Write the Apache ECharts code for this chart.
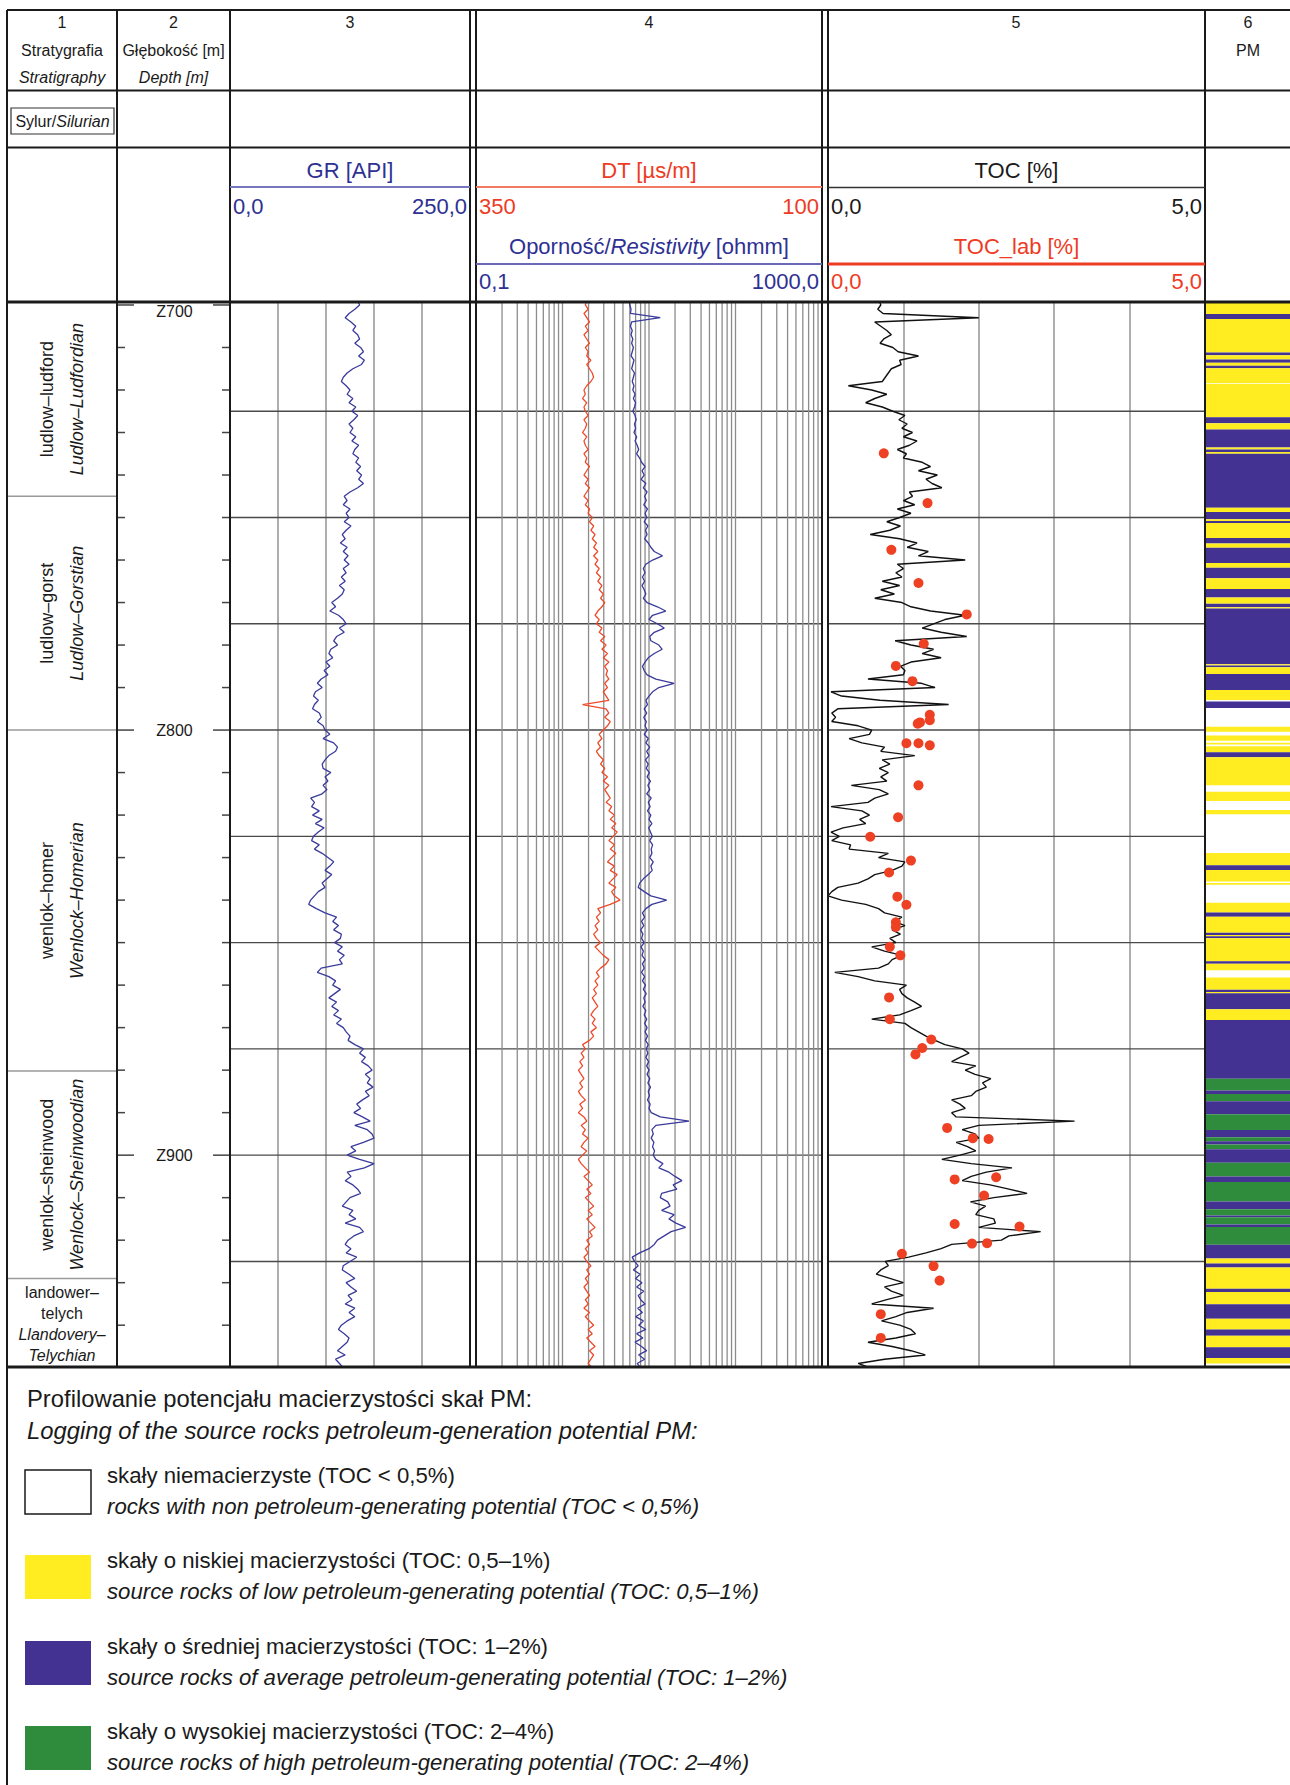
<!DOCTYPE html>
<html><head><meta charset="utf-8">
<script src="https://cdn.jsdelivr.net/npm/echarts@6/dist/echarts.min.js"></script>
<style>html,body{margin:0;padding:0;background:#fff}#c{width:1290px;height:1785px}</style>
</head><body><div id="c"></div>
<script>
// ---------------- DATA ----------------
const DEPTH_MIN = 699.3, DEPTH_MAX = 949.6;
const SAMPLE_TOP = 699;           // first log sample depth [m], 1 m sampling
const gr = [
133,135,130,124,120,126,131,128,133,135,
130,136,139,134,140,137,128,122,118,116,
121,125,122,128,124,131,127,133,129,124,
128,125,131,127,134,130,128,134,131,136,
132,137,134,139,133,125,119,122,118,125,
121,124,119,126,121,117,120,115,122,118,
123,119,124,118,121,116,120,114,119,117,
112,106,110,104,113,118,121,114,119,111,
108,112,105,103,107,100,104,98,102,95,
91,96,89,87,92,88,86,93,95,91,
97,99,104,97,108,112,110,103,99,96,
97,105,99,102,97,101,96,84,88,85,
93,86,96,89,98,92,87,85,93,88,
96,102,108,104,99,106,101,96,99,92,
88,84,82,90,99,111,107,113,108,116,
115,109,117,112,119,114,117,95,91,103,
110,107,115,109,103,111,106,113,108,116,
111,118,121,125,123,130,139,135,141,137,
144,148,141,146,143,149,141,145,138,132,
136,129,138,146,130,143,148,150,139,126,
131,122,135,150,140,122,126,120,128,133,
136,125,121,117,128,124,131,120,135,139,
129,123,120,126,121,132,125,118,117,124,
130,121,126,132,123,127,120,130,124,130,
122,116,113,119,124,122,117,112,120,110,
114,118];
const dt = [
270,271,269,272,270,268,271,269,272,270,
268,271,269,270,267,270,268,266,265,267,
270,272,271,273,270,272,271,269,272,270,
271,273,270,272,271,269,272,270,271,268,
270,272,269,271,268,270,272,269,271,268,
269,266,268,265,267,264,266,263,265,262,
265,262,264,261,263,260,262,259,261,258,
260,257,259,262,264,261,263,259,261,257,
260,256,259,255,258,254,257,255,256,254,
257,255,258,256,254,273,256,254,257,253,
255,258,261,259,262,260,263,261,258,260,
257,259,255,258,254,257,255,253,256,252,
254,250,253,249,252,248,251,254,250,253,
249,252,255,250,253,248,251,254,249,252,
250,246,253,262,260,263,261,264,262,265,
263,260,264,261,258,254,256,260,263,261,
264,262,265,263,266,264,262,265,267,264,
266,263,267,265,268,273,271,274,272,275,
273,276,274,272,275,273,276,274,271,275,
273,276,272,270,274,271,273,269,272,274,
270,273,276,274,271,268,272,269,266,270,
267,271,268,265,269,266,270,267,264,268,
266,270,268,271,269,272,270,267,270,268,
271,269,272,270,268,271,269,272,268,271,
268,265,269,266,270,267,264,268,265,267,
269,266];
const res = [
5.9,6.0,6.2,6.1,13.5,6.3,6.1,6.4,6.2,6.5,
6.3,6.6,6.4,6.2,6.7,6.5,6.3,6.8,6.6,6.4,
6.7,6.5,6.9,6.6,7.0,6.8,6.5,6.9,7.1,6.8,
7.0,6.7,7.2,6.9,7.3,7.6,7.2,7.8,8.2,9.0,
8.3,8.8,8.1,9.2,8.6,9.5,8.9,9.3,8.7,9.6,
9.0,9.4,8.8,9.7,9.1,9.5,8.9,9.8,10.5,11.5,
14.3,11.0,9.2,8.6,9.0,8.4,8.9,8.3,8.8,9.2,
8.6,9.5,12.5,15.6,11.0,10.0,12.5,15.0,11.5,10.2,
10.5,13.0,14.2,11.5,9.8,9.0,8.4,8.8,9.5,12.0,
19.5,13.0,11.0,10.0,9.2,9.6,8.8,9.4,8.7,9.3,
9.0,9.5,8.8,9.8,9.2,10.2,9.4,10.0,9.1,9.8,
9.3,10.1,9.5,10.4,9.7,10.2,9.4,10.6,9.8,10.3,
9.6,10.5,10.0,10.8,9.9,10.4,10.9,10.2,11.0,10.6,
10.8,10.2,11.2,10.5,10.9,9.8,8.6,7.8,7.5,8.8,
10.5,16.0,10.8,9.2,8.4,8.9,8.2,8.7,8.0,8.5,
8.2,8.8,8.1,8.6,8.3,9.0,8.4,8.8,8.2,8.9,
8.4,9.1,8.6,9.3,8.7,9.0,8.5,9.2,8.8,9.4,
8.9,9.5,9.0,9.6,9.1,9.8,9.3,9.7,9.2,9.9,
9.4,10.0,9.5,10.2,9.7,10.4,9.8,10.1,9.6,10.3,
10.0,10.6,13.5,29.0,12.0,10.8,11.2,10.6,11.4,11.0,
11.6,11.2,12.0,14.5,13.0,17.0,20.0,24.0,19.0,21.0,
14.0,13.5,16.5,17.5,14.0,19.5,17.0,20.5,26.5,18.0,
15.0,12.5,11.5,10.0,7.8,6.4,6.8,7.5,6.6,7.9,
7.0,8.3,7.2,8.7,7.5,8.0,9.0,7.4,8.4,7.0,
8.6,7.6,9.2,7.2,8.5,6.9,8.2,9.4,7.6,8.9,
7.3,8.0];
const toc = [
0.68,0.70,0.66,0.73,2.00,0.62,0.70,0.78,0.84,0.74,
0.69,0.86,0.93,1.20,0.95,0.97,0.84,0.80,0.76,0.72,
0.27,0.58,0.78,0.62,0.50,0.72,0.86,1.02,0.94,1.05,
0.98,1.12,1.00,1.18,1.08,0.92,1.04,1.00,1.25,1.36,
1.20,1.45,1.30,1.38,1.51,1.08,1.12,1.00,1.15,0.92,
1.10,0.95,0.78,0.96,0.82,0.56,0.95,1.18,1.05,1.33,
1.20,1.82,0.92,1.00,0.90,0.98,0.72,0.95,0.70,0.88,
0.62,0.98,1.10,1.36,1.82,1.55,1.40,1.25,1.50,1.84,
0.89,1.10,1.40,1.25,1.50,1.10,0.96,1.02,1.00,0.53,
1.24,1.42,0.04,0.18,0.69,1.60,0.13,0.05,0.10,0.05,
0.40,0.58,0.55,0.28,0.45,0.75,0.70,1.15,0.72,0.82,
0.68,0.80,0.70,0.78,0.31,0.68,0.80,0.62,0.53,0.04,
0.45,0.55,0.42,0.50,0.20,0.04,0.15,0.05,0.30,0.28,
0.80,0.67,1.02,0.98,0.85,0.62,0.53,0.40,0.13,0.05,
0.00,0.18,0.50,0.67,0.75,0.98,0.88,1.02,0.85,0.96,
0.82,0.90,0.58,0.75,0.98,0.85,0.80,0.67,0.09,0.40,
0.62,1.04,0.95,0.98,1.05,1.15,1.24,1.10,0.95,0.58,
1.02,1.10,1.20,1.30,1.42,1.55,1.78,1.87,1.75,1.64,
1.96,1.82,1.95,2.16,2.05,2.10,1.96,1.90,1.64,1.75,
1.82,1.64,1.70,3.27,2.00,1.78,1.95,2.00,1.70,1.85,
1.96,1.75,1.51,1.90,2.44,2.10,1.90,1.78,2.15,2.40,
2.64,2.20,1.89,2.09,2.00,1.96,2.20,2.22,2.00,2.82,
2.40,2.30,1.64,1.50,1.30,1.07,0.76,0.80,0.70,0.64,
0.82,1.00,0.75,0.84,1.00,0.78,0.58,1.40,1.05,0.90,
0.71,0.95,1.10,1.16,0.90,0.53,0.85,1.10,1.29,0.75,
0.40,0.55];
const tocLabDepth = [734.9,746.6,757.6,765.4,772.8,779.7,784.9,788.5,796.4,797.7,798.2,798.5,803.1,803.1,803.6,813.0,820.5,825.1,830.7,833.5,839.2,841.1,845.2,846.3,851.0,853.0,862.9,868.0,872.8,874.8,876.3,893.6,896.0,896.2,905.7,905.2,909.5,916.2,916.8,920.8,920.7,923.2,926.1,929.5,937.4,943.0];
const tocLabValue = [0.74,1.32,0.84,1.20,1.84,1.27,0.90,1.12,1.35,1.35,1.22,1.19,1.04,1.20,1.35,1.20,0.93,0.56,1.10,0.81,0.92,1.04,0.90,0.90,0.82,0.96,0.81,0.82,1.37,1.25,1.16,1.58,1.92,2.13,1.68,2.23,2.07,1.68,2.54,1.91,2.11,0.98,1.40,1.48,0.70,0.70];
// PM bands: [top, base, class]  class 1 = low, 2 = average, 3 = high (white = non-source)
const pmBands = [
[699.3,702.1,1],[702.1,703.3,2],[703.3,711.2,1],[711.2,711.8,2],[711.8,712.8,1],[712.8,713.6,2],[713.6,714.3,1],[714.3,714.9,2],[714.9,718.4,1],[718.6,726.4,1],[726.4,727.8,2],[727.8,729.3,1],[729.3,733.5,2],[733.5,734.0,1],[734.0,734.6,2],[734.6,735.0,1],[735.0,747.7,2],[747.7,748.7,1],[748.7,750.4,2],[750.4,750.8,1],[750.8,751.3,2],[751.3,754.8,1],[754.8,756.1,2],[756.1,757.1,1],[757.1,760.7,2],[760.7,761.8,1],[761.8,764.3,2],[764.3,766.8,1],[766.8,768.8,2],[768.8,770.3,1],[770.3,771.1,2],[771.1,771.4,1],[771.4,784.5,2],[784.5,784.8,1],[784.8,785.2,2],[785.2,786.8,1],[786.8,790.6,2],[790.6,792.9,1],[793.3,794.8,2],[799.2,800.4,1],[801.3,802.5,1],[803.0,803.4,1],[803.8,805.2,1],[805.2,806.4,2],[806.4,813.0,1],[814.5,816.7,1],[818.8,819.8,1],
[828.9,831.8,1],[831.8,832.9,2],[832.9,835.6,1],[836.0,836.4,1],[840.6,842.9,1],[842.9,843.9,2],[843.9,847.7,1],[847.7,848.2,2],[848.2,848.5,1],[848.5,849.0,2],[849.0,854.4,1],[854.4,855.0,2],[855.0,856.5,1],[858.2,861.1,1],[861.1,861.6,2],[861.6,861.9,1],[861.9,865.7,2],[865.7,868.2,1],[868.2,882.0,2],[882.0,884.8,3],[884.8,885.6,2],[885.6,887.3,3],[887.3,890.4,2],[890.4,894.1,3],[894.1,895.8,2],[895.8,896.7,3],[896.7,897.5,2],[897.5,898.6,3],[898.6,901.8,2],[901.8,905.0,3],[905.0,906.3,2],[906.3,910.9,3],[910.9,912.7,2],[912.7,914.2,3],[914.2,914.6,2],[914.6,916.3,3],[916.3,916.9,2],[916.9,921.1,3],[921.1,924.3,2],[924.3,925.5,1],[925.5,926.4,2],[926.4,931.4,1],[931.4,932.2,2],[932.2,935.1,1],[935.1,938.5,2],[938.5,941.0,1],[941.0,942.5,2],[942.5,945.2,1],[945.2,947.7,2],[947.7,949.0,1]];
const pmColors = ['#ffffff','#FFED21','#433291','#2F8C3C'];
const stratTop   = [699.3, 745, 800, 880.2, 929];
const stratBase  = [745, 800, 880.2, 929, 949.6];
const stratLocal = ['ludlow–ludford','ludlow–gorst','wenlok–homer','wenlok–sheinwood','landower–\ntelych'];
const stratLatin = ['Ludlow–Ludfordian','Ludlow–Gorstian','Wenlock–Homerian','Wenlock–Sheinwoodian','Llandovery–\nTelychian'];
const gridDepths = [725,750,775,800,825,850,875,900,925];
const depthTicks = [700,710,720,730,740,750,760,770,780,790,800,810,820,830,840,850,860,870,880,890,900,910,920,930,940];
const depthLabelDepths = [700,800,900];
const depthLabels = ['Z700','Z800','Z900'];
const resGridValues = [0.2,0.3,0.4,0.5,0.6,0.7,0.8,0.9,1,2,3,4,5,6,7,8,9,10,20,30,40,50,60,70,80,90,100,200,300,400,500,600,700,800,900];
const legendLocal = ['skały niemacierzyste (TOC < 0,5%)','skały o niskiej macierzystości (TOC: 0,5–1%)','skały o średniej macierzystości (TOC: 1–2%)','skały o wysokiej macierzystości (TOC: 2–4%)'];
const legendEnglish = ['rocks with non petroleum-generating potential (TOC < 0,5%)','source rocks of low petroleum-generating potential (TOC: 0,5–1%)','source rocks of average petroleum-generating potential (TOC: 1–2%)','source rocks of high petroleum-generating potential (TOC: 2–4%)'];

// ---------------- STYLE / LAYOUT ----------------
const FONT = '"Liberation Sans", Arial, sans-serif';
const BLUE = '#2E3192', RED = '#EE3B24', CURVE_BLUE = '#3A3A9C';
const TOP = 302, H = 1064;

function T(x, y, text, size, color, italic, align) {
  return {type:'text', x:x, y:y, z:100, silent:true, style:{text:text, fill:color||'#1a1a1a', fontSize:size, fontFamily:FONT, fontStyle: italic?'italic':'normal', align: align||'center', verticalAlign:'middle'}};
}
function RT(x, y, text, size, color, align) {
  return {type:'text', x:x, y:y, z:100, silent:true, style:{text:text, align: align||'center', verticalAlign:'middle', fontSize:size, fontFamily:FONT, fill:color,
    rich:{n:{fontSize:size, fontFamily:FONT, fill:color, color:color}, i:{fontSize:size, fontFamily:FONT, fontStyle:'italic', fill:color, color:color}}}};
}
function L(x1,y1,x2,y2,w,c){ return {type:'line', z:100, silent:true, shape:{x1:x1,y1:y1,x2:x2,y2:y2}, style:{stroke:c||'#1a1a1a', lineWidth:w||2}}; }
function RC(x,y,w,h,fill,stroke){ return {type:'rect', z:100, silent:true, shape:{x:x,y:y,width:w,height:h}, style:{fill:fill, stroke:stroke||null, lineWidth:stroke?1.5:0}}; }

const g = [];
// frame
[10, 90.5, 147.5].forEach(y => g.push(L(7, y, 1290, y, 2)));
g.push(L(7, 302, 1290, 302, 3));
g.push(L(7, 1367, 1290, 1367, 3));
g.push(L(7, 10, 7, 1785, 2));
[117, 230, 470, 476, 822, 828, 1205].forEach(x => g.push(L(x, 10, x, 1367, 2)));
// column numbers / titles
[[62,'1'],[173.5,'2'],[350,'3'],[649,'4'],[1016,'5'],[1248,'6']].forEach(a => g.push(T(a[0], 22, a[1], 16)));
g.push(T(62, 50, 'Stratygrafia', 16));
g.push(T(62, 77, 'Stratigraphy', 16, null, true));
g.push(T(173.5, 50, 'Głębokość [m]', 16));
g.push(T(173.5, 77, 'Depth [m]', 16, null, true));
g.push(T(1248, 50, 'PM', 16));
g.push({type:'rect', z:100, silent:true, shape:{x:11, y:108, width:103, height:26}, style:{fill:'none', stroke:'#333', lineWidth:1.2}});
g.push(RT(62.5, 121.5, '{n|Sylur/}{i|Silurian}', 16, '#1a1a1a'));
// track headers
g.push(T(350, 170, 'GR [API]', 22, BLUE));
g.push(L(230, 187, 470, 187, 2, '#7676BE'));
g.push(T(233, 206, '0,0', 22, BLUE, false, 'left'));
g.push(T(467, 206, '250,0', 22, BLUE, false, 'right'));
g.push(T(649, 170, 'DT [µs/m]', 22, RED));
g.push(L(476, 187, 822, 187, 2, '#F27A62'));
g.push(T(479, 206, '350', 22, RED, false, 'left'));
g.push(T(819, 206, '100', 22, RED, false, 'right'));
g.push(RT(649, 246.5, '{n|Oporność/}{i|Resistivity}{n| [ohmm]}', 22, BLUE));
g.push(L(476, 264, 822, 264, 2, '#6A6AB8'));
g.push(T(479, 281.5, '0,1', 22, BLUE, false, 'left'));
g.push(T(819, 281.5, '1000,0', 22, BLUE, false, 'right'));
g.push(T(1016.5, 170, 'TOC [%]', 22));
g.push(L(828, 187.5, 1205, 187.5, 1.6, '#333'));
g.push(T(831, 206, '0,0', 22, null, false, 'left'));
g.push(T(1202, 206, '5,0', 22, null, false, 'right'));
g.push(T(1016.5, 246.5, 'TOC_lab [%]', 22, RED));
g.push(L(828, 264, 1205, 264, 3, RED));
g.push(T(831, 281.5, '0,0', 22, RED, false, 'left'));
g.push(T(1202, 281.5, '5,0', 22, RED, false, 'right'));
// legend
g.push(T(27, 1398, 'Profilowanie potencjału macierzystości skał PM:', 23.8, null, false, 'left'));
g.push(T(27, 1430, 'Logging of the source rocks petroleum-generation potential PM:', 23.8, null, true, 'left'));
const legY = [1470, 1555, 1641, 1726];
legendLocal.forEach((s, i) => {
  g.push(RC(25, legY[i], 66, 44, pmColors[i], i === 0 ? '#1a1a1a' : null));
  g.push(T(107, legY[i] + 5, s, 22.2, null, false, 'left'));
  g.push(T(107, legY[i] + 36, legendEnglish[i], 22.2, null, true, 'left'));
});

// ---------------- CHART ----------------
const grids = [
  {left:7, top:TOP, width:110, height:H},
  {left:117, top:TOP, width:113, height:H},
  {left:230, top:TOP, width:240, height:H},
  {left:476, top:TOP, width:346, height:H},
  {left:828, top:TOP, width:377, height:H},
  {left:1206, top:TOP, width:84, height:H}
];
const yAxes = grids.map((_, i) => ({gridIndex:i, type:'value', min:DEPTH_MIN, max:DEPTH_MAX, inverse:true, show:false}));
const vSplit = {show:true, lineStyle:{color:'#9a9a9a', width:1.6}};
const hidden = {axisLine:{show:false}, axisTick:{show:false}, axisLabel:{show:false}};
const xAxes = [
  {gridIndex:0, type:'value', min:0, max:1, show:false},
  {gridIndex:1, type:'value', min:0, max:1, show:false},
  Object.assign({gridIndex:2, type:'value', min:0, max:250, interval:50, splitLine:vSplit}, hidden),
  {gridIndex:3, type:'value', min:100, max:350, inverse:true, show:false},
  {gridIndex:3, type:'log', logBase:10, min:0.1, max:1000, show:false},
  Object.assign({gridIndex:4, type:'value', min:0, max:5, interval:1, splitLine:vSplit}, hidden),
  {gridIndex:5, type:'value', min:0, max:1, show:false}
];

function curve(values){ return values.map((v, i) => [v, SAMPLE_TOP + i]); }
function hGrid(xi, yi, xref){
  return {type:'custom', xAxisIndex:xi, yAxisIndex:yi, z:1, silent:true, data: gridDepths.map(d => [xref, d]),
    renderItem: (p, api) => { const cs = p.coordSys; const y = api.coord([api.value(0), api.value(1)])[1];
      return {type:'line', shape:{x1:cs.x, y1:y, x2:cs.x+cs.width, y2:y}, style:{stroke:'#4a4a4a', lineWidth:1.4}}; }};
}

const series = [
  // stratigraphy
  {type:'custom', xAxisIndex:0, yAxisIndex:0, silent:true, z:5,
   data: stratTop.map((t, i) => [0.5, t, stratBase[i], i]),
   renderItem: (p, api) => {
     const cs = p.coordSys, i = api.value(3);
     const y0 = api.coord([0.5, api.value(1)])[1], y1 = api.coord([0.5, api.value(2)])[1];
     const cx = cs.x + cs.width/2, cy = (y0 + y1)/2;
     const ch = [];
     if (api.value(2) < DEPTH_MAX - 0.5) ch.push({type:'line', shape:{x1:cs.x, y1:y1, x2:cs.x+cs.width, y2:y1}, style:{stroke:'#9a9a9a', lineWidth:1.5}});
     if (y1 - y0 > 140) {
       ch.push({type:'text', x:cx-15, y:cy, rotation:Math.PI/2, style:{text:stratLocal[i], fontSize:18, fontFamily:FONT, fill:'#1a1a1a', align:'center', verticalAlign:'middle'}});
       ch.push({type:'text', x:cx+15, y:cy, rotation:Math.PI/2, style:{text:stratLatin[i], fontSize:18, fontFamily:FONT, fontStyle:'italic', fill:'#1a1a1a', align:'center', verticalAlign:'middle'}});
     } else {
       ch.push({type:'text', x:cx, y:cy-19, style:{text:stratLocal[i], fontSize:16, lineHeight:21, fontFamily:FONT, fill:'#1a1a1a', align:'center', verticalAlign:'middle'}});
       ch.push({type:'text', x:cx, y:cy+23, style:{text:stratLatin[i], fontSize:16, lineHeight:21, fontFamily:FONT, fontStyle:'italic', fill:'#1a1a1a', align:'center', verticalAlign:'middle'}});
     }
     return {type:'group', children:ch};
   }},
  // depth ticks
  {type:'custom', xAxisIndex:1, yAxisIndex:1, silent:true, z:5,
   data: depthTicks.map(d => [0.5, d]),
   renderItem: (p, api) => {
     const cs = p.coordSys, d = api.value(1);
     const y = api.coord([0.5, d])[1];
     const k = depthLabelDepths.indexOf(d);
     const len = k >= 0 ? 17 : 8;
     const ch = [
       {type:'line', shape:{x1:cs.x, y1:y, x2:cs.x+len, y2:y}, style:{stroke:'#444', lineWidth:1.5}},
       {type:'line', shape:{x1:cs.x+cs.width-len, y1:y, x2:cs.x+cs.width, y2:y}, style:{stroke:'#444', lineWidth:1.5}}
     ];
     if (k >= 0) ch.push({type:'text', x:cs.x+cs.width/2+1, y:Math.max(y, cs.y+9), style:{text:depthLabels[k], fontSize:16, fontFamily:FONT, fill:'#1a1a1a', align:'center', verticalAlign:'middle'}});
     return {type:'group', children:ch};
   }},
  // grids
  hGrid(2, 2, 0), hGrid(3, 3, 200), hGrid(5, 4, 0),
  {type:'custom', xAxisIndex:4, yAxisIndex:3, z:1, silent:true, data: resGridValues.map(v => [v, DEPTH_MIN]),
   renderItem: (p, api) => { const cs = p.coordSys; const x = api.coord([api.value(0), api.value(1)])[0];
     return {type:'line', shape:{x1:x, y1:cs.y, x2:x, y2:cs.y+cs.height}, style:{stroke:'#8c8c8c', lineWidth:1.3}}; }},
  // curves
  {name:'GR', type:'line', xAxisIndex:2, yAxisIndex:2, z:3, data:curve(gr), showSymbol:false, symbol:'none', lineStyle:{color:CURVE_BLUE, width:1.3}},
  {name:'DT', type:'line', xAxisIndex:3, yAxisIndex:3, z:3, data:curve(dt), showSymbol:false, symbol:'none', lineStyle:{color:'#EE4A2A', width:1.3}},
  {name:'Resistivity', type:'line', xAxisIndex:4, yAxisIndex:3, z:3, data:curve(res), showSymbol:false, symbol:'none', lineStyle:{color:CURVE_BLUE, width:1.3}},
  {name:'TOC', type:'line', xAxisIndex:5, yAxisIndex:4, z:3, data:curve(toc), showSymbol:false, symbol:'none', lineStyle:{color:'#111', width:1.4}},
  {name:'TOC_lab', type:'scatter', xAxisIndex:5, yAxisIndex:4, z:4, data:tocLabValue.map((v, i) => [v, tocLabDepth[i]]), symbolSize:10, itemStyle:{color:'#EE4023', opacity:1}},
  // PM
  {type:'custom', xAxisIndex:6, yAxisIndex:5, silent:true, z:2, data: pmBands,
   encode:{y:[0,1]},
   renderItem: (p, api) => { const cs = p.coordSys;
     const y0 = api.coord([0, api.value(0)])[1], y1 = api.coord([0, api.value(1)])[1];
     return {type:'rect', shape:{x:cs.x, y:y0, width:cs.width, height:Math.max(y1-y0, 0.8)}, style:{fill:pmColors[api.value(2)]}}; }}
];

const chart = echarts.init(document.getElementById('c'), null, {renderer:'svg', width:1290, height:1785});
chart.setOption({
  animation:false, backgroundColor:'#ffffff',
  grid:grids, xAxis:xAxes, yAxis:yAxes, series:series,
  graphic:{elements:g}
});
</script>
</body></html>
